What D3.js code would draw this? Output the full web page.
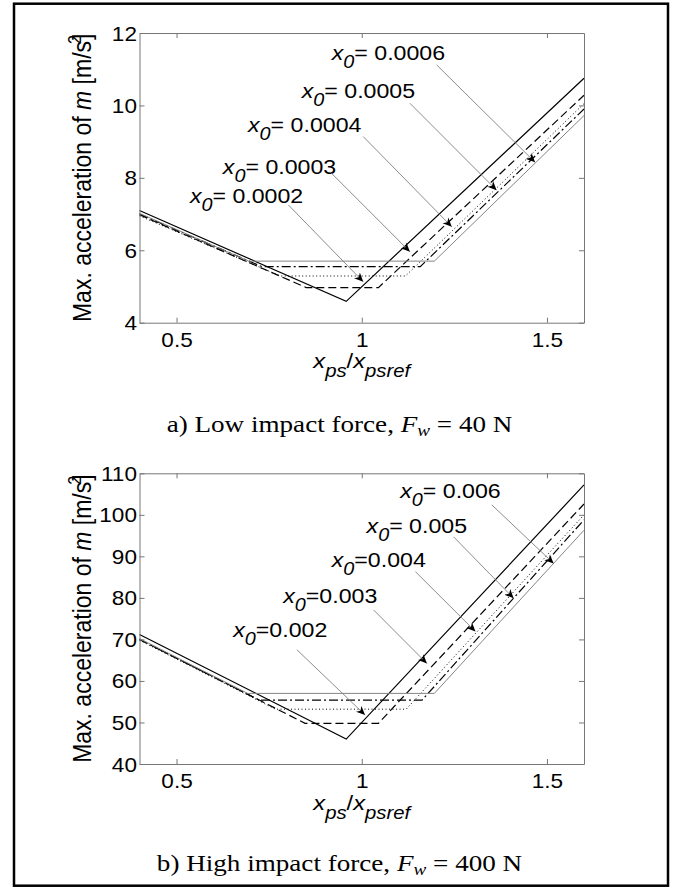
<!DOCTYPE html>
<html>
<head>
<meta charset="utf-8">
<script src="https://cdn.jsdelivr.net/npm/d3@7"></script>
<style>
    body { margin: 0; background: #fff; }
    svg { display: block; }
</style>
</head>
<body>
<svg id="chart" width="675" height="887"></svg>
<script>
// shared x axis
const x_domain = [0.4, 1.6];
const x_ticks = [0.5, 1, 1.5];

// a) low impact force, Fw = 40 N
const low_y_domain = [4, 12];
const low_y_ticks = [4, 6, 8, 10, 12];
const low_x0 = ['= 0.0002', '= 0.0003', '= 0.0004', '= 0.0005', '= 0.0006'];
const low_curve_0002 = [[0.4, 7.10], [0.958, 4.59], [1.6, 10.75]];
const low_curve_0003 = [[0.4, 6.98], [0.85, 4.97], [1.045, 4.97], [1.6, 10.28]];
const low_curve_0004 = [[0.4, 6.95], [0.78, 5.29], [1.118, 5.29], [1.6, 10.05]];
const low_curve_0005 = [[0.4, 7.00], [0.73, 5.55], [1.158, 5.55], [1.6, 9.90]];
const low_curve_0006 = [[0.4, 7.02], [0.695, 5.70], [1.196, 5.70], [1.6, 9.72]];

// b) high impact force, Fw = 400 N
const high_y_domain = [40, 110];
const high_y_ticks = [40, 50, 60, 70, 80, 90, 100, 110];
const high_x0 = ['=0.002', '=0.003', '=0.004', '= 0.005', '= 0.006'];
const high_curve_002 = [[0.4, 71.2], [0.958, 46.0], [1.6, 107.2]];
const high_curve_003 = [[0.4, 70.0], [0.847, 49.8], [1.045, 49.8], [1.6, 102.6]];
const high_curve_004 = [[0.4, 69.8], [0.767, 53.2], [1.12, 53.2], [1.6, 100.0]];
const high_curve_005 = [[0.4, 70.0], [0.723, 55.4], [1.163, 55.4], [1.6, 98.8]];
const high_curve_006 = [[0.4, 70.2], [0.692, 57.0], [1.196, 57.0], [1.6, 96.3]];

// annotation placement, in data units: label start, arrow tail, arrow head
const low_label_at = [[0.536, 7.30], [0.625, 8.10], [0.693, 9.27], [0.838, 10.20], [0.919, 11.25]];
const low_arrow_from = [[0.802, 7.25], [0.914, 8.17], [1.004, 9.14], [1.130, 10.06], [1.202, 11.12]];
const low_arrow_to = [[1.004, 5.13], [1.130, 5.96], [1.243, 6.65], [1.364, 7.66], [1.468, 8.43]];
const high_label_at = [[0.653, 70.6], [0.788, 78.7], [0.919, 87.5], [1.013, 95.6], [1.104, 104.0]];
const high_arrow_from = [[0.825, 67.5], [1.032, 77.1], [1.145, 86.3], [1.248, 94.7], [1.351, 102.4]];
const high_arrow_to = [[1.009, 51.8], [1.176, 64.2], [1.307, 71.9], [1.410, 79.9], [1.518, 88.3]];

const SX = 1.13; // reference text is drawn a bit wider than tall
const sans = '"Liberation Sans", Arial, Helvetica, sans-serif';
const serif = '"Liberation Serif", "Times New Roman", serif';

const line_styles = [
    { stroke: '#000', width: 1.2, dash: null },
    { stroke: '#000', width: 1.2, dash: '8,4' },
    { stroke: '#000', width: 1, dash: '1,2.5' },
    { stroke: '#000', width: 1.2, dash: '9,3,2,3' },
    { stroke: '#858585', width: 1, dash: null },
];

const svg = d3.select('#chart');

svg.append('rect')
    .attr('width', 675)
    .attr('height', 887)
    .attr('fill', '#fff');

svg.append('rect')
    .attr('x', 14)
    .attr('y', 3.7)
    .attr('width', 654)
    .attr('height', 882)
    .attr('fill', 'none')
    .attr('stroke', '#000')
    .attr('stroke-width', 2.5);

svg.append('defs')
    .append('marker')
    .attr('id', 'head')
    .attr('viewBox', '0 -5 10 10')
    .attr('refX', 10)
    .attr('refY', 0)
    .attr('markerUnits', 'userSpaceOnUse')
    .attr('markerWidth', 9)
    .attr('markerHeight', 9)
    .attr('orient', 'auto')
    .append('path')
    .attr('d', 'M0,-4.5L10,0L0,4.5L3,0Z')
    .attr('fill', '#000');

function stretched(parent, px, py, size, family, anchor) {
    return parent.append('text')
        .attr('transform', `translate(${px}, ${py}) scale(${SX}, 1)`)
        .attr('text-anchor', anchor)
        .style('font-family', family)
        .style('font-size', `${size}px`)
        .attr('fill', '#000');
}

function draw_panel(panel) {
    const left = 139.5, right = 584;
    const x = d3.scaleLinear().domain(x_domain).range([left, right]);
    const y = d3.scaleLinear().domain(panel.y_domain).range([panel.bottom, panel.top]);
    const g = svg.append('g');

    const line = d3.line()
        .x(d => x(d[0]))
        .y(d => y(d[1]));

    g.selectAll('path.curve')
        .data(panel.curves)
        .enter()
        .append('path')
        .attr('class', 'curve')
        .attr('d', line)
        .attr('fill', 'none')
        .attr('stroke', (d, i) => line_styles[i].stroke)
        .attr('stroke-width', (d, i) => line_styles[i].width)
        .attr('stroke-dasharray', (d, i) => line_styles[i].dash);

    // box with inward ticks on all four sides
    const axis_color = '#777';
    const axes = [
        [d3.axisBottom(x).tickValues(x_ticks).tickFormat(d3.format('')), `translate(0, ${panel.bottom})`],
        [d3.axisTop(x).tickValues(x_ticks).tickFormat(''), `translate(0, ${panel.top})`],
        [d3.axisLeft(y).tickValues(panel.y_ticks).tickFormat(d3.format('')), `translate(${left}, 0)`],
        [d3.axisRight(y).tickValues(panel.y_ticks).tickFormat(''), `translate(${right}, 0)`],
    ];
    axes.forEach(([axis, tr], k) => {
        const a = g.append('g')
            .attr('transform', tr)
            .call(axis.tickSizeInner(-5).tickSizeOuter(0));
        a.select('.domain').attr('stroke', axis_color).attr('stroke-width', 1);
        a.selectAll('.tick line').attr('stroke', axis_color);
        a.selectAll('.tick text')
            .attr('fill', '#000')
            .style('font-family', sans)
            .style('font-size', '20px')
            .attr('x', null)
            .attr('y', null)
            .attr('dy', null)
            .attr('transform', k === 0
                ? `translate(0, 24) scale(${SX}, 1)`
                : `translate(-2.5, 7) scale(${SX}, 1)`);
    });

    // annotations
    panel.labels.forEach((txt, i) => {
        const [lx, ly] = panel.label_at[i];
        const t = stretched(g, x(lx), y(ly), 20.5, sans, 'start');
        t.append('tspan').style('font-style', 'italic').text('x');
        t.append('tspan').style('font-style', 'italic').style('font-size', '17.5px').attr('dy', 8).text('0');
        t.append('tspan').attr('dy', -8).text(txt);

        g.append('line')
            .attr('x1', x(panel.arrow_from[i][0]))
            .attr('y1', y(panel.arrow_from[i][1]))
            .attr('x2', x(panel.arrow_to[i][0]))
            .attr('y2', y(panel.arrow_to[i][1]))
            .attr('stroke', '#808080')
            .attr('stroke-width', 0.9)
            .attr('marker-end', 'url(#head)');
    });

    // y label
    const mid = (panel.top + panel.bottom) / 2;
    const yl = g.append('text')
        .attr('transform', `translate(91, ${mid}) scale(${SX}, 1) rotate(-90)`)
        .attr('text-anchor', 'middle')
        .style('font-family', sans)
        .style('font-size', '23px');
    yl.append('tspan').text('Max. acceleration of ');
    yl.append('tspan').style('font-style', 'italic').text('m');
    yl.append('tspan').text(' [m/s');
    yl.append('tspan').attr('dy', -9).attr('dx', -3).style('font-size', '16px').text('2');
    yl.append('tspan').attr('dy', 9).attr('dx', -5).text(']');

    // x label
    const xl = stretched(g, (left + right) / 2, panel.bottom + 45.6, 21, sans, 'middle')
        .style('font-style', 'italic');
    xl.append('tspan').text('x');
    xl.append('tspan').attr('dy', 9).style('font-size', '18px').text('ps');
    xl.append('tspan').attr('dy', -9).style('font-style', 'normal').text('/');
    xl.append('tspan').text('x');
    xl.append('tspan').attr('dy', 9).style('font-size', '18px').text('psref');

    // caption
    const cap = stretched(g, 339.5, panel.caption_y, 24, serif, 'middle');
    cap.append('tspan').text(panel.caption);
    cap.append('tspan').style('font-style', 'italic').text('F');
    cap.append('tspan').style('font-style', 'italic').style('font-size', '17px').attr('dy', 4).text('w');
    cap.append('tspan').attr('dy', -4).text(` = ${panel.force} N`);
}

draw_panel({
    top: 33, bottom: 322.7,
    y_domain: low_y_domain, y_ticks: low_y_ticks,
    curves: [low_curve_0002, low_curve_0003, low_curve_0004, low_curve_0005, low_curve_0006],
    labels: low_x0,
    label_at: low_label_at, arrow_from: low_arrow_from, arrow_to: low_arrow_to,
    caption: 'a) Low impact force, ', force: 40, caption_y: 432,
});

draw_panel({
    top: 473.3, bottom: 764,
    y_domain: high_y_domain, y_ticks: high_y_ticks,
    curves: [high_curve_002, high_curve_003, high_curve_004, high_curve_005, high_curve_006],
    labels: high_x0,
    label_at: high_label_at, arrow_from: high_arrow_from, arrow_to: high_arrow_to,
    caption: 'b) High impact force, ', force: 400, caption_y: 870.7,
});
</script>
</body>
</html>
